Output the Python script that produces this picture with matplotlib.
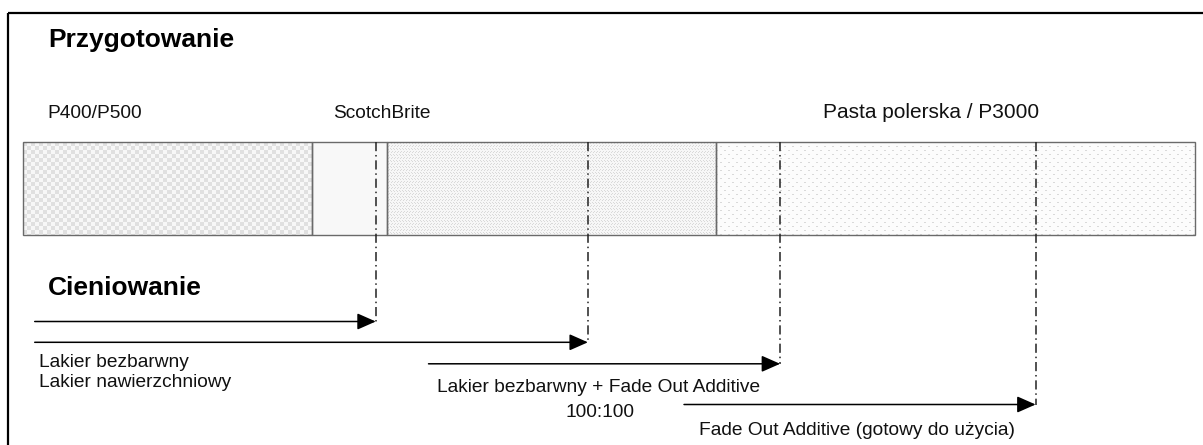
import matplotlib
matplotlib.use('Agg')
import matplotlib.pyplot as plt
import numpy as np

# preparation bar, timeline units 0..100
stage_edges = [0, 24.7, 31.1, 59.1, 100]
stage_kinds = ['checker', 'plain', 'fine', 'sparse']
stage_labels = ['P400/P500', 'ScotchBrite', 'Pasta polerska / P3000']
stage_label_x = [2.1, 26.5, 68.3]

# shading steps (arrows)
coat_start = [1.0, 1.0, 34.6, 56.4]
coat_end = [30.1, 48.2, 64.6, 86.4]
coat_labels = ['Lakier bezbarwny\nLakier nawierzchniowy',
               'Lakier bezbarwny + Fade Out Additive\n100:100',
               'Fade Out Additive (gotowy do użycia)']

W, H = 1203, 445
px0, px1 = 23, 1195          # bar edges in pixels
sx = (px1 - px0) / 100.0     # pixels per timeline unit

plt.rcParams['font.family'] = ['Liberation Sans', 'DejaVu Sans']

fig = plt.figure(figsize=(W / 100, H / 100), dpi=100)
ax = fig.add_axes([0, 0, 1, 1])
ax.axis('off')


def texture(kind, w, h):
    yy, xx = np.mgrid[0:h, 0:w]
    if kind == 'checker':
        img = np.where(((xx // 4 + yy // 4) % 2) == 0, 0.875, 0.965)
    elif kind == 'plain':
        img = np.full((h, w), 0.97)
    elif kind == 'fine':
        dot = ((xx + (yy // 3 % 2)) % 3 == 0) & (yy % 3 == 0)
        dot |= ((xx % 3) == 1) & ((yy % 3) == 1)
        img = np.where(dot, 0.85, 0.965)
    else:
        dot = ((xx + (yy // 4 % 2) * 4) % 8 < 2) & (yy % 4 == 0)
        img = np.where(dot, 0.85, 0.985)
    return img


bar_top, bar_bot = 142, 235
for i, kind in enumerate(stage_kinds):
    x0, x1 = stage_edges[i], stage_edges[i + 1]
    w = int(round((x1 - x0) * sx))
    h = bar_bot - bar_top
    ax.imshow(texture(kind, w, h), cmap='gray', vmin=0, vmax=1,
              extent=(x0, x1, bar_bot, bar_top), aspect='auto',
              interpolation='nearest')
    ax.add_patch(plt.Rectangle((x0, bar_top), x1 - x0, bar_bot - bar_top,
                               fill=False, edgecolor='#6a6a6a', lw=1.0))

# headings
ax.text((48 - px0) / sx, 47, 'Przygotowanie', fontsize=19, fontweight='bold',
        va='baseline', ha='left')
ax.text((48 - px0) / sx, 295, 'Cieniowanie', fontsize=19, fontweight='bold',
        va='baseline', ha='left')

for lab, lx in zip(stage_labels, stage_label_x):
    fs = 15 if lab.startswith('Pasta') else 13.8
    ax.text(lx, 118, lab, fontsize=fs, va='baseline', ha='left', color='#111111')

# arrows + dash-dot markers
arrow_y = [321.5, 342.3, 363.8, 404.5]
for s, e, y in zip(coat_start, coat_end, arrow_y):
    ax.annotate('', xy=(e, y), xytext=(s, y),
                arrowprops=dict(arrowstyle='-|>,head_length=0.95,head_width=0.42',
                                mutation_scale=12, lw=1.1, color='black',
                                shrinkA=0, shrinkB=0))
    ax.plot([e, e], [bar_top, y], color='#222222', lw=1.1,
            linestyle=(0, (6, 2.5, 1, 2.5)))

# shading labels (one text per line so baselines stay put)
l1, l2 = coat_labels[0].split('\n')
ax.text((39 - px0) / sx, 367, l1, fontsize=13.8, va='baseline', ha='left', color='#111111')
ax.text((39 - px0) / sx, 387, l2, fontsize=13.8, va='baseline', ha='left', color='#111111')
m1, m2 = coat_labels[1].split('\n')
ax.text((599 - px0) / sx, 392, m1, fontsize=13.8, va='baseline', ha='center', color='#111111')
ax.text((600 - px0) / sx, 417, m2, fontsize=13.8, va='baseline', ha='center', color='#111111')
ax.text((699 - px0) / sx, 435, coat_labels[2], fontsize=13.8, va='baseline',
        ha='left', color='#111111')

# frame (only top and left visible)
xl = -px0 / sx
xr = (W - px0) / sx
fx = (8 - px0) / sx
ax.plot([fx, xr], [13, 13], color='black', lw=1.6, solid_capstyle='butt')
ax.plot([fx, fx], [13, H], color='black', lw=1.6, solid_capstyle='butt')

ax.set_xlim(xl, xr)
ax.set_ylim(H, 0)

fig.savefig('out.png', dpi=100)
